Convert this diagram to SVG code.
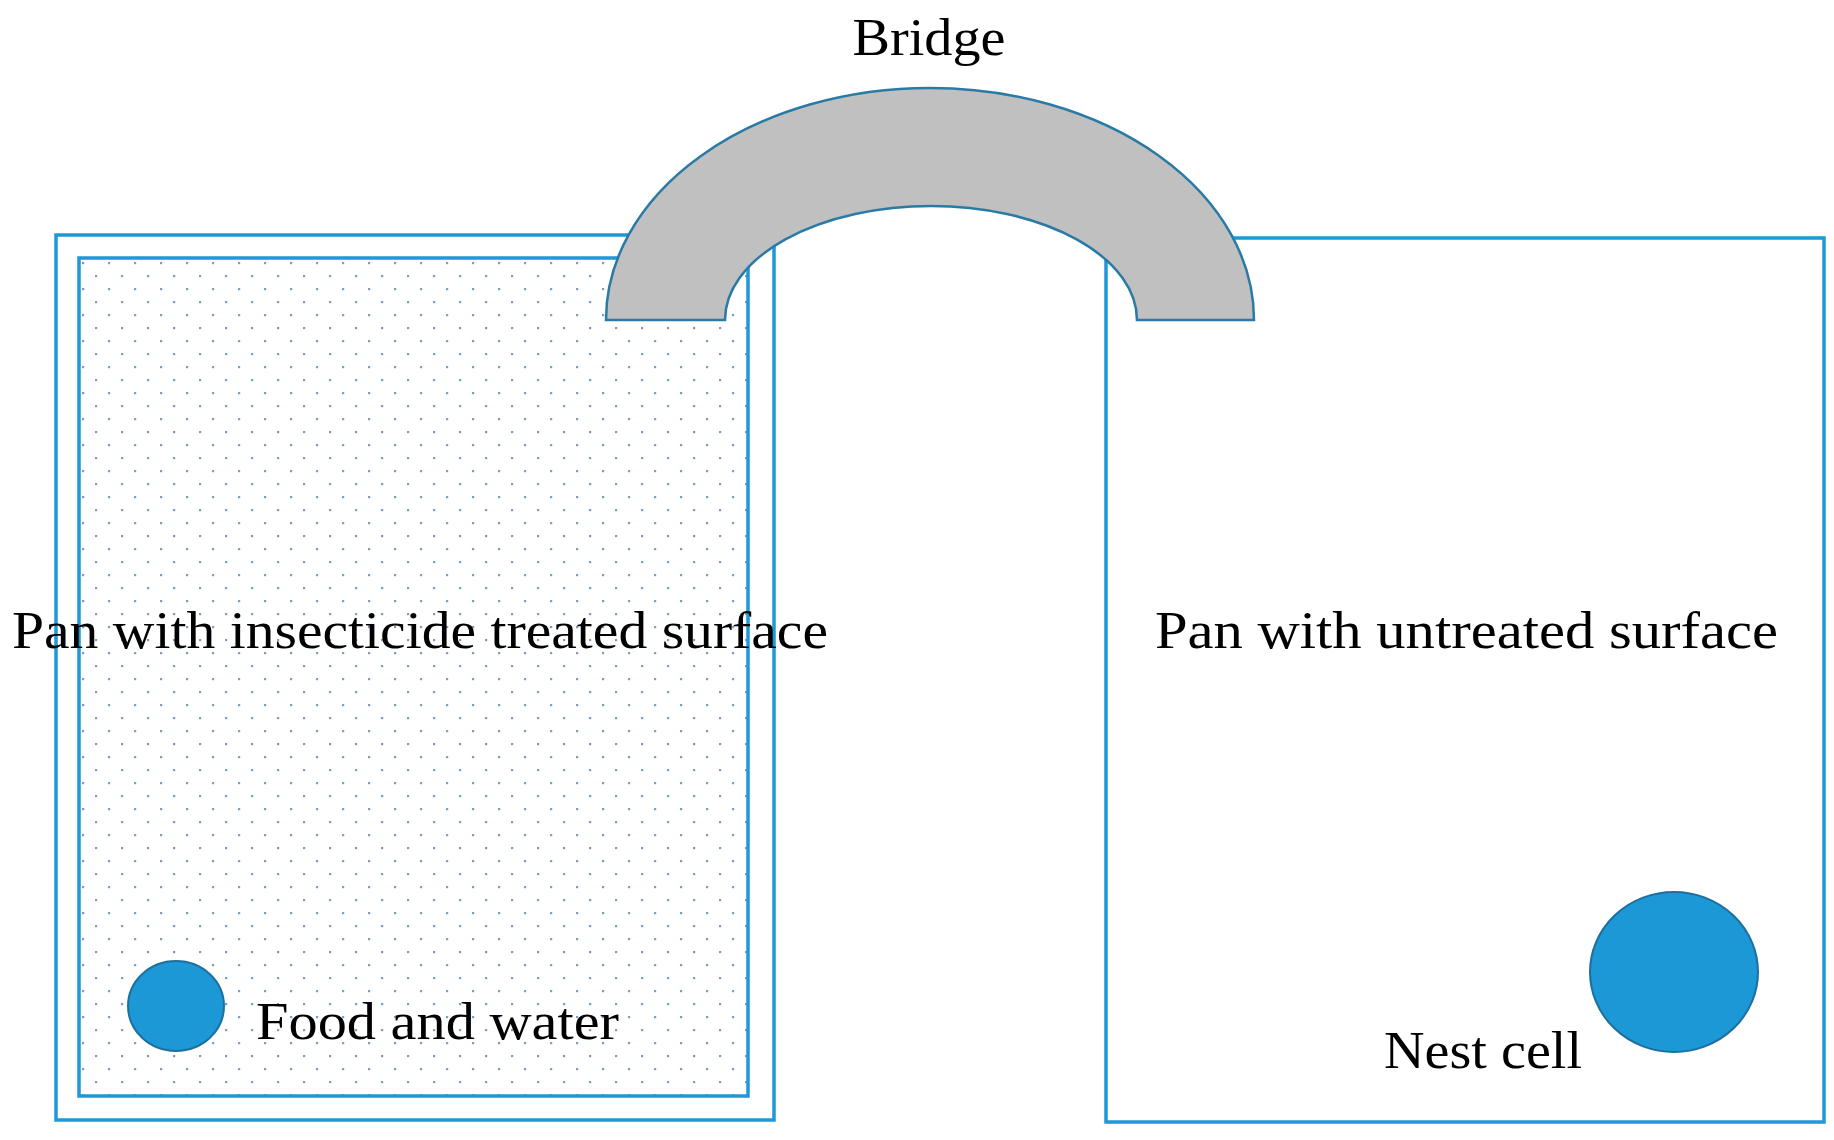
<svg xmlns="http://www.w3.org/2000/svg" width="1834" height="1140" viewBox="0 0 1834 1140">
<style>
.pan{fill:none;stroke:#1e98d6;stroke-width:3.5}
.dot{fill:#1b98d5;stroke:#1c6f9f;stroke-width:2}
text{font-family:"Liberation Serif",serif;font-size:52px;fill:#000}
</style>
<defs>
<pattern id="dots" x="79" y="258" width="26" height="26" patternUnits="userSpaceOnUse">
<rect x="3" y="4" width="2.2" height="2.2" fill="#7f9cbf"/>
<rect x="16" y="17" width="2.2" height="2.2" fill="#7f9cbf"/>
</pattern>
</defs>
<rect width="1834" height="1140" fill="#fff"/>
<g id="left-pan">
<rect class="pan" x="56" y="235" width="718" height="885"/>
<rect x="79" y="258" width="669" height="838" fill="url(#dots)" stroke="#1e98d6" stroke-width="3.5"/>
<text x="12" y="648" textLength="816" lengthAdjust="spacingAndGlyphs">Pan with insecticide treated surface</text>
</g>
<g id="food">
<ellipse class="dot" cx="176" cy="1006" rx="48" ry="45"/>
<text x="256" y="1039" textLength="363" lengthAdjust="spacingAndGlyphs">Food and water</text>
</g>
<g id="right-pan">
<rect class="pan" x="1106" y="238" width="718" height="884"/>
<text x="1155" y="648" textLength="623" lengthAdjust="spacingAndGlyphs">Pan with untreated surface</text>
</g>
<g id="nest">
<ellipse class="dot" cx="1674" cy="972" rx="84" ry="80"/>
<text x="1384" y="1068" textLength="198" lengthAdjust="spacingAndGlyphs">Nest cell</text>
</g>
<g id="bridge">
<path d="M606,320 A324,232 0 0 1 1254,320 L1137,320 A206,114 0 0 0 725,320 Z" fill="#c0c0c0" stroke="#2a7aa6" stroke-width="2.5"/>
<text x="929" y="55" text-anchor="middle" textLength="153" lengthAdjust="spacingAndGlyphs">Bridge</text>
</g>
<g id="connectors"/>
</svg>
